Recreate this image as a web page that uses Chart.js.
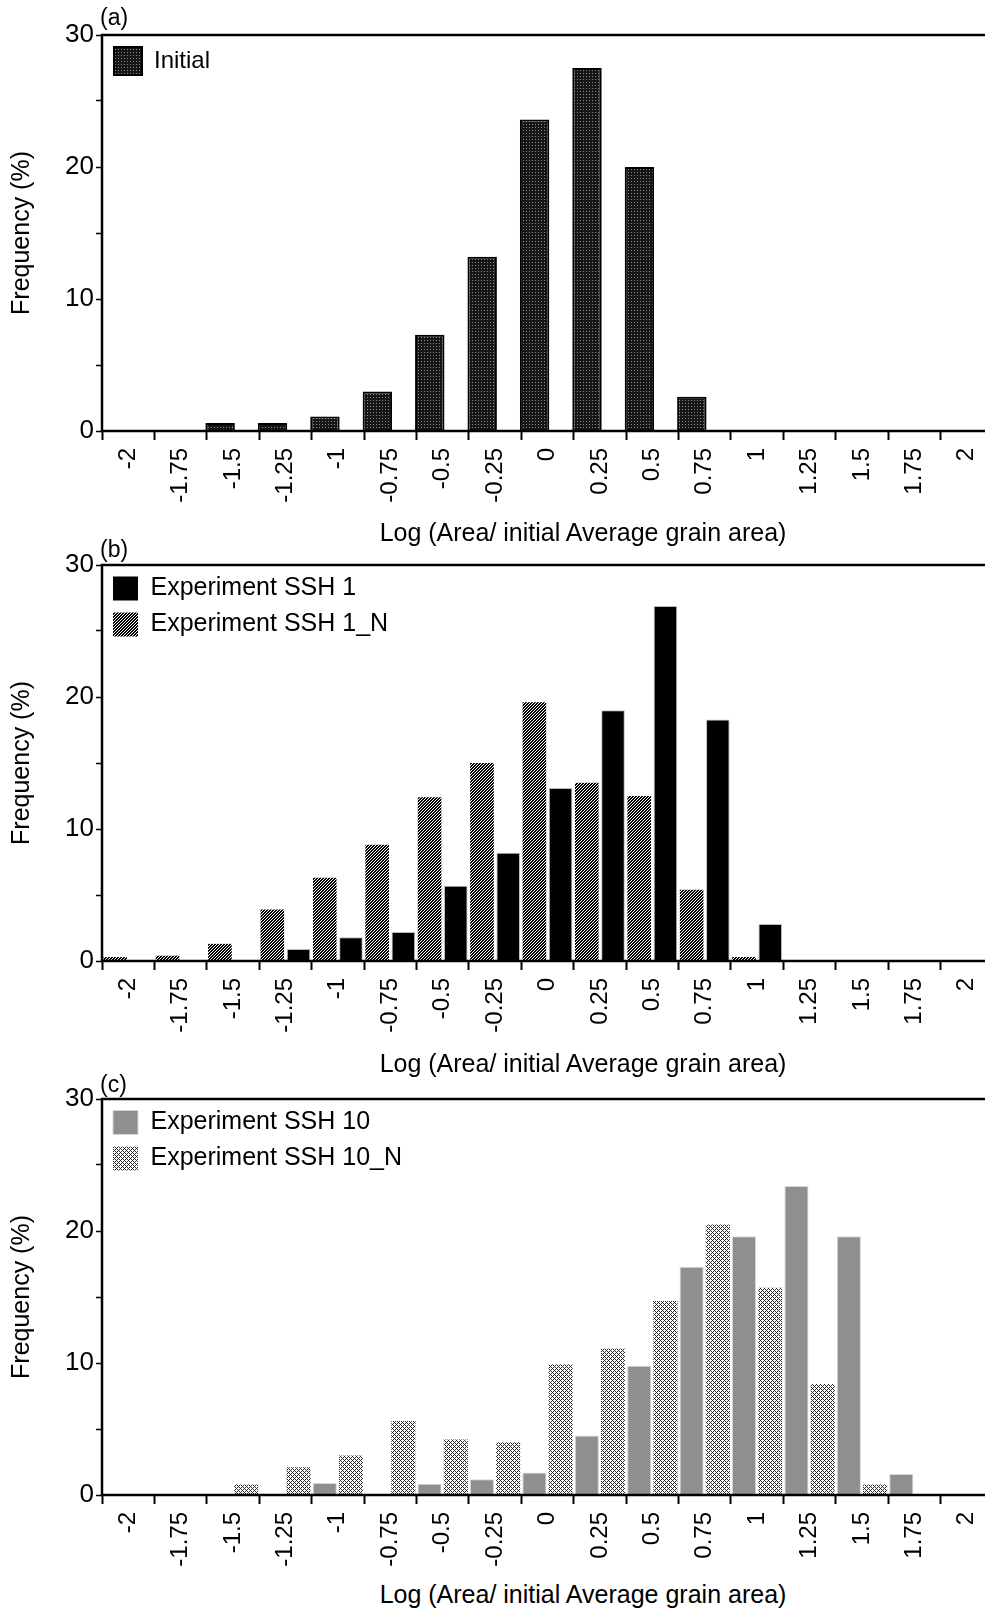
<!DOCTYPE html>
<html>
<head>
<meta charset="utf-8">
<script src="https://cdn.jsdelivr.net/npm/chart.js@4.4.1/dist/chart.umd.min.js"></script>
<style>
  html, body { margin: 0; padding: 0; background: #fff; }
  body { width: 985px; height: 1611px; position: relative; overflow: hidden;
         font-family: "Liberation Sans", Arial, sans-serif; color: #000; }
  .panel { position: absolute; left: 0; width: 994px; height: 515px; }
  .panel canvas { display: block; }
  .tag { position: absolute; left: 100px; font-size: 23px; line-height: 23px; }
  .xcap { position: absolute; left: 583px; font-size: 25px; line-height: 25px;
          white-space: nowrap; transform: translateX(-50%); }
</style>
</head>
<body>
<div class="panel" style="top:0px"><canvas id="chartA" width="994" height="515"></canvas></div>
<div class="panel" style="top:530px"><canvas id="chartB" width="994" height="515"></canvas></div>
<div class="panel" style="top:1064px"><canvas id="chartC" width="994" height="515"></canvas></div>

<div class="tag" style="top:6px">(a)</div>
<div class="tag" style="top:538px">(b)</div>
<div class="tag" style="top:1073px">(c)</div>

<div class="xcap" style="top:520px">Log (Area/ initial Average grain area)</div>
<div class="xcap" style="top:1051px">Log (Area/ initial Average grain area)</div>
<div class="xcap" style="top:1582px">Log (Area/ initial Average grain area)</div>

<script>
// Size classes: log of grain area relative to the initial average grain area
const categories = ['-2', '-1.75', '-1.5', '-1.25', '-1', '-0.75', '-0.5', '-0.25',
                    '0', '0.25', '0.5', '0.75', '1', '1.25', '1.5', '1.75', '2'];

// Frequency (%) per size class
const initialFreq = [0, 0, 0.6, 0.6, 1.1, 3.0, 7.3, 13.2, 23.6, 27.5, 20.0, 2.6, 0, 0, 0, 0, 0];
const ssh1Freq    = [0, 0, 0, 0.9, 1.8, 2.2, 5.7, 8.2, 13.1, 19.0, 26.9, 18.3, 2.8, 0, 0, 0, 0];
const ssh1NFreq   = [0.3, 0.4, 1.3, 3.9, 6.3, 8.8, 12.4, 15.0, 19.6, 13.5, 12.5, 5.4, 0.3, 0, 0, 0, 0];
const ssh10Freq   = [0, 0, 0, 0, 0.9, 0, 0.85, 1.2, 1.7, 4.5, 9.8, 17.3, 19.6, 23.4, 19.6, 1.6, 0];
const ssh10NFreq  = [0, 0, 0.8, 2.1, 3.0, 5.6, 4.2, 4.0, 9.9, 11.1, 14.7, 20.5, 15.7, 8.4, 0.8, 0, 0];

// Frequency axis
const yMin = 0, yMax = 30, yStep = 5, yLabelEvery = 10;

Chart.defaults.font.family = '"Liberation Sans", Arial, sans-serif';
Chart.defaults.color = '#000';

// ---- fill patterns -------------------------------------------------------
function tilePattern(ctx, size, paint) {
  const t = document.createElement('canvas');
  t.width = size; t.height = size;
  const g = t.getContext('2d');
  const img = g.createImageData(size, size);
  for (let y = 0; y < size; y++) {
    for (let x = 0; x < size; x++) {
      const v = paint(x, y);
      const i = (y * size + x) * 4;
      img.data[i] = img.data[i + 1] = img.data[i + 2] = v;
      img.data[i + 3] = 255;
    }
  }
  g.putImageData(img, 0, 0);
  return ctx.createPattern(t, 'repeat');
}
// dark stipple
const dotted = ctx => tilePattern(ctx, 3, (x, y) => (x === 1 && y === 1) ? 140 : 22);
// dense "/" hatching
const hatched = ctx => tilePattern(ctx, 3, (x, y) => ((x + y) % 3 === 0) ? 255 : 0);
// grey cross-hatching
const crossed = ctx => tilePattern(ctx, 4, (x, y) =>
  ((x + y) % 4 === 0 || (x - y + 4) % 4 === 0) ? 45 : 255);

// ---- plot frame ----------------------------------------------------------
const framePlugin = {
  id: 'frame',
  afterDatasetsDraw(chart) {
    const { ctx, chartArea: a } = chart;
    ctx.save();
    ctx.strokeStyle = '#000';
    ctx.lineWidth = 2.5;
    ctx.strokeRect(a.left, a.top, a.right - a.left, a.bottom - a.top);
    ctx.restore();
  }
};

// keep the legend box on the plot area (top-left corner)
const legendInside = {
  id: 'legendInside',
  afterLayout(chart) {
    const l = chart.legend, a = chart.chartArea;
    if (!l) return;
    l.left = a.left; l.right = a.right;
    l.top = a.top; l.bottom = a.bottom;
  }
};

function legendLabels(chart) {
  const items = Chart.defaults.plugins.legend.labels.generateLabels(chart);
  items.forEach(it => {
    const ds = chart.data.datasets[it.datasetIndex];
    if (ds.swatchBorder !== undefined) it.lineWidth = ds.swatchBorder;
  });
  return items;
}

function makeChart(id, datasets, o) {
  const canvas = document.getElementById(id);
  return new Chart(canvas, {
    type: 'bar',
    data: { labels: categories, datasets: datasets },
    options: {
      responsive: false,
      animation: false,
      devicePixelRatio: 1,
      layout: { padding: { top: 35, left: 0, right: 1, bottom: 0 } },
      datasets: { bar: { categoryPercentage: o.catPct, barPercentage: o.barPct } },
      plugins: {
        tooltip: { enabled: false },
        legend: {
          position: 'chartArea',
          align: 'start',
          labels: {
            font: { size: o.legendFont },
            color: '#000',
            boxWidth: o.box[0],
            boxHeight: o.box[1],
            padding: o.legendPad,
            filter: item => item.text !== '',
            sort: o.legendSort,
            generateLabels: legendLabels
          }
        }
      },
      scales: {
        x: {
          type: 'category',
          offset: true,
          border: { display: false },
          grid: { offset: true, drawOnChartArea: false, drawTicks: true,
                  tickLength: 9, tickWidth: 2, tickColor: '#000', color: '#000' },
          ticks: { autoSkip: false, minRotation: 90, maxRotation: 90,
                   padding: 8, font: { size: 24 }, color: '#000' },
          afterFit: s => { s.height = 84; s.paddingLeft = 0; s.paddingRight = 0; }
        },
        y: {
          min: yMin, max: yMax,
          border: { display: false },
          grid: { drawOnChartArea: false, drawTicks: true,
                  tickLength: 6, tickWidth: 1.5, tickColor: '#000', color: '#000' },
          ticks: { stepSize: yStep, padding: 2, font: { size: 26 }, color: '#000',
                   callback: v => (v % yLabelEvery === 0 ? v : '') },
          title: { display: true, text: 'Frequency (%)', font: { size: 25 },
                   color: '#000', padding: { top: 7, bottom: 0 } },
          afterFit: s => { s.width = 102; }
        }
      }
    },
    plugins: [legendInside, framePlugin]
  });
}

// (a) initial distribution
const ctxA = document.getElementById('chartA').getContext('2d');
makeChart('chartA', [
  { label: 'Initial', data: initialFreq, backgroundColor: dotted(ctxA),
    borderColor: '#000', borderWidth: 2, swatchBorder: 2 },
  { label: '', data: categories.map(() => null), backgroundColor: 'rgba(0,0,0,0)' }
], { catPct: 0.985, barPct: 1.14, legendFont: 24, box: [28, 28], legendPad: 12 });

// (b) SSH 1 and SSH 1_N
const ctxB = document.getElementById('chartB').getContext('2d');
makeChart('chartB', [
  { label: 'Experiment SSH 1_N', data: ssh1NFreq, backgroundColor: hatched(ctxB),
    borderColor: '#fff', borderWidth: 0, swatchBorder: 0 },
  { label: 'Experiment SSH 1', data: ssh1Freq, backgroundColor: '#000',
    borderColor: '#bdbdbd', borderWidth: 1, swatchBorder: 0 }
], { catPct: 1.0, barPct: 0.9, legendFont: 25, box: [25, 24], legendPad: 11,
     legendSort: (a, b) => b.datasetIndex - a.datasetIndex });

// (c) SSH 10 and SSH 10_N
const ctxC = document.getElementById('chartC').getContext('2d');
makeChart('chartC', [
  { label: 'Experiment SSH 10', data: ssh10Freq, backgroundColor: '#8f8f8f',
    borderColor: '#d6d6d6', borderWidth: 1, swatchBorder: 1 },
  { label: 'Experiment SSH 10_N', data: ssh10NFreq, backgroundColor: crossed(ctxC),
    borderWidth: 0, swatchBorder: 0 }
], { catPct: 1.0, barPct: 0.92, legendFont: 25, box: [25, 24], legendPad: 11 });
</script>
</body>
</html>
